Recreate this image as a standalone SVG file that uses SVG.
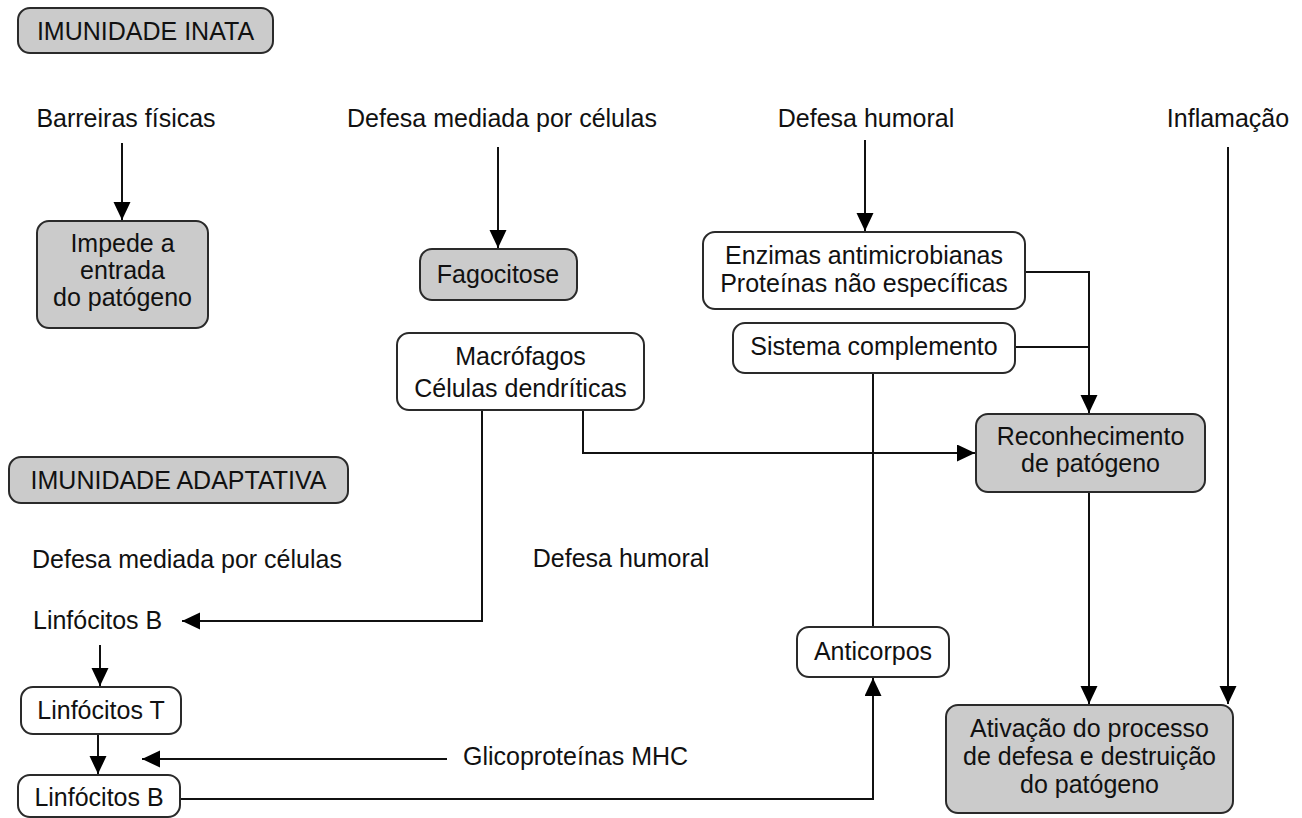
<svg xmlns="http://www.w3.org/2000/svg" width="1302" height="818" viewBox="0 0 1302 818">
<style>
  .bg{fill:#ffffff}
  .box{fill:#ffffff;stroke:#2a2a2a;stroke-width:2}
  .gray{fill:#cbcbcb}
  text{font-family:"Liberation Sans",Arial,sans-serif;font-size:25px;fill:#111111}
  .c{text-anchor:middle}
  .conn{fill:none;stroke:#111111;stroke-width:2}
</style>
<defs>
  <marker id="ah" markerUnits="userSpaceOnUse" markerWidth="20" markerHeight="18" refX="18" refY="8.5" orient="auto">
    <path d="M0,0 L18,8.5 L0,17 z" fill="#000000"/>
  </marker>
</defs>
<rect class="bg" x="0" y="0" width="1302" height="818"/>

<g id="connectors">
  <path class="conn" d="M122,143 V220" marker-end="url(#ah)"/>
  <path class="conn" d="M498,147 V248" marker-end="url(#ah)"/>
  <path class="conn" d="M865,140 V231" marker-end="url(#ah)"/>
  <path class="conn" d="M1228,147 V704" marker-end="url(#ah)"/>
  <path class="conn" d="M1025,272 H1089 V413" marker-end="url(#ah)"/>
  <path class="conn" d="M1015,347 H1089"/>
  <path class="conn" d="M583,410 V453 H975" marker-end="url(#ah)"/>
  <path class="conn" d="M482,410 V621 H182" marker-end="url(#ah)"/>
  <path class="conn" d="M873,373 V627"/>
  <path class="conn" d="M1089,492 V704" marker-end="url(#ah)"/>
  <path class="conn" d="M100,645 V686" marker-end="url(#ah)"/>
  <path class="conn" d="M98,734 V774" marker-end="url(#ah)"/>
  <path class="conn" d="M447,759 H142" marker-end="url(#ah)"/>
  <path class="conn" d="M180,799 H873 V678" marker-end="url(#ah)"/>
</g>

<g id="imunidade-inata">
  <rect class="box gray" x="18" y="8" width="255" height="45" rx="12"/>
  <text class="c" x="145.5" y="40">IMUNIDADE INATA</text>
</g>
<g id="barreiras"><text class="c" x="126" y="127">Barreiras físicas</text></g>
<g id="defesa-celulas-inata"><text class="c" x="502" y="127">Defesa mediada por células</text></g>
<g id="defesa-humoral-inata"><text class="c" x="866" y="127">Defesa humoral</text></g>
<g id="inflamacao"><text class="c" x="1228" y="127">Inflamação</text></g>

<g id="impede">
  <rect class="box gray" x="37" y="221" width="171" height="107" rx="12"/>
  <text class="c" x="122.5" y="252">Impede a</text>
  <text class="c" x="122.5" y="279">entrada</text>
  <text class="c" x="122.5" y="306">do patógeno</text>
</g>
<g id="fagocitose">
  <rect class="box gray" x="420" y="249" width="157" height="51" rx="12"/>
  <text class="c" x="498" y="283">Fagocitose</text>
</g>
<g id="enzimas">
  <rect class="box" x="703" y="232" width="322" height="77" rx="12"/>
  <text class="c" x="864" y="264">Enzimas antimicrobianas</text>
  <text class="c" x="864" y="292">Proteínas não específicas</text>
</g>
<g id="sistema-complemento">
  <rect class="box" x="733" y="323" width="282" height="50" rx="12"/>
  <text class="c" x="874" y="355">Sistema complemento</text>
</g>
<g id="macrofagos">
  <rect class="box" x="397" y="333" width="247" height="77" rx="12"/>
  <text class="c" x="520.5" y="365">Macrófagos</text>
  <text class="c" x="520.5" y="397">Células dendríticas</text>
</g>
<g id="reconhecimento">
  <rect class="box gray" x="976" y="414" width="229" height="78" rx="12"/>
  <text class="c" x="1090.5" y="445">Reconhecimento</text>
  <text class="c" x="1090.5" y="472">de patógeno</text>
</g>
<g id="imunidade-adaptativa">
  <rect class="box gray" x="9" y="457" width="339" height="46" rx="12"/>
  <text class="c" x="178.5" y="489">IMUNIDADE ADAPTATIVA</text>
</g>
<g id="defesa-celulas-adapt"><text x="32" y="568">Defesa mediada por células</text></g>
<g id="defesa-humoral-adapt"><text class="c" x="621" y="567">Defesa humoral</text></g>
<g id="linfocitos-b1"><text x="33" y="629">Linfócitos B</text></g>
<g id="linfocitos-t">
  <rect class="box" x="21" y="687" width="160" height="47" rx="12"/>
  <text class="c" x="101" y="719">Linfócitos T</text>
</g>
<g id="glicoproteinas"><text x="463" y="765">Glicoproteínas MHC</text></g>
<g id="linfocitos-b2">
  <rect class="box" x="18" y="775" width="162" height="42" rx="12"/>
  <text class="c" x="99" y="806">Linfócitos B</text>
</g>
<g id="anticorpos">
  <rect class="box" x="797" y="627" width="152" height="50" rx="12"/>
  <text class="c" x="873" y="660">Anticorpos</text>
</g>
<g id="ativacao">
  <rect class="box gray" x="946" y="705" width="287" height="108" rx="12"/>
  <text class="c" x="1089.5" y="737">Ativação do processo</text>
  <text class="c" x="1089.5" y="765">de defesa e destruição</text>
  <text class="c" x="1089.5" y="793">do patógeno</text>
</g>
</svg>
